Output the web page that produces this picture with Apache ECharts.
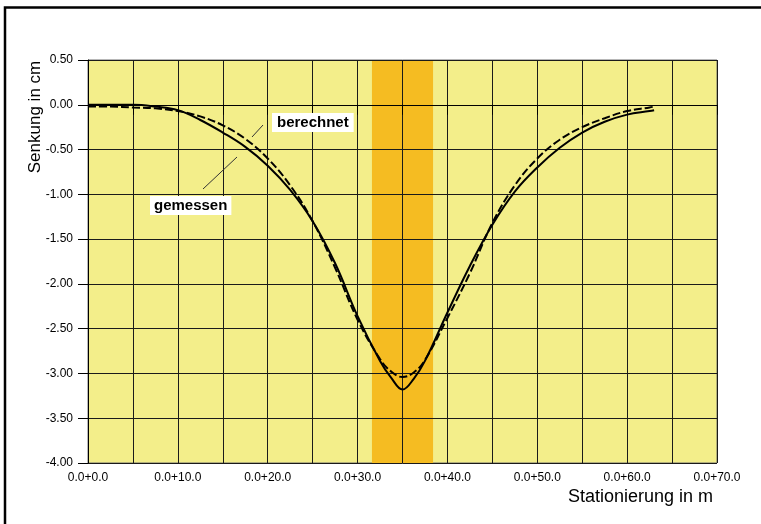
<!DOCTYPE html>
<html>
<head>
<meta charset="utf-8">
<script src="https://cdn.jsdelivr.net/npm/echarts@6/dist/echarts.min.js"></script>
<style>
  html, body { margin: 0; padding: 0; background: #fff; }
  #main { width: 761px; height: 524px; }
</style>
</head>
<body>
<div id="main"></div>
<script>
// Stationierung (m) und Senkung (cm)
var stations = [0, 2.5, 5, 7.5, 10, 12.5, 15, 17.5, 20, 22.5, 25, 27.5, 30, 32.5, 33.75, 35, 36.25, 37.5, 40, 42.5, 45, 47.5, 50, 52.5, 55, 57.5, 60, 62.5, 63];
var gemessen = [0, 0, 0, -0.02, -0.06, -0.17, -0.31, -0.47, -0.68, -0.95, -1.30, -1.77, -2.36, -2.86, -3.05, -3.18, -3.06, -2.86, -2.32, -1.80, -1.34, -0.97, -0.70, -0.48, -0.31, -0.19, -0.11, -0.07, -0.06];
var berechnet = [-0.02, -0.02, -0.03, -0.04, -0.07, -0.13, -0.23, -0.38, -0.60, -0.90, -1.30, -1.82, -2.40, -2.84, -2.98, -3.04, -2.99, -2.85, -2.38, -1.88, -1.32, -0.90, -0.60, -0.39, -0.25, -0.15, -0.07, -0.03, -0.02];
// Bereich des Tunnels
var bandFrom = 31.6;
var bandTo = 38.4;

function pairs(xs, ys) {
  return xs.map(function (x, i) { return [x, ys[i]]; });
}

var myChart = echarts.init(document.getElementById('main'));

var option = {
  animation: false,
  textStyle: { fontFamily: 'Arial, "Liberation Sans", sans-serif' },
  grid: {
    left: 88, right: 44, top: 60, bottom: 61,
    show: true,
    backgroundColor: '#F3EE8A',
    borderColor: '#6e6e6e',
    borderWidth: 1
  },
  xAxis: {
    type: 'value',
    z: 3,
    min: 0, max: 70, interval: 5,
    axisLine: { lineStyle: { color: '#000', width: 1 } },
    axisTick: { show: true, length: 10, lineStyle: { color: '#000' } },
    axisLabel: {
      margin: 9,
      color: '#000',
      fontSize: 12,
      showMinLabel: true, showMaxLabel: true,
      formatter: function (v) {
        return v % 10 === 0 ? '0.0+' + v.toFixed(1) : '';
      }
    },
    splitLine: { show: true, lineStyle: { color: '#1a1a1a', width: 1 } }
  },
  yAxis: {
    type: 'value',
    z: 3,
    min: -4, max: 0.5, interval: 0.5,
    axisLine: { show: true, lineStyle: { color: '#000', width: 1 } },
    axisTick: { show: true, length: 10, lineStyle: { color: '#000' } },
    axisLabel: {
      margin: 15,
      color: '#000',
      fontSize: 12,
      formatter: function (v) { return v.toFixed(2); }
    },
    splitLine: { show: true, lineStyle: { color: '#1a1a1a', width: 1 } }
  },
  series: [
    {
      name: 'band',
      type: 'line',
      z: 1,
      data: [],
      silent: true,
      markArea: {
        silent: true,
        itemStyle: { color: '#F5BC22' },
        data: [[{ xAxis: bandFrom }, { xAxis: bandTo }]]
      }
    },
    {
      name: 'gemessen',
      type: 'line',
      z: 5,
      smooth: 0.4,
      showSymbol: false,
      data: pairs(stations, gemessen),
      lineStyle: { color: '#000', width: 2 }
    },
    {
      name: 'berechnet',
      type: 'line',
      z: 5,
      smooth: 0.4,
      showSymbol: false,
      data: pairs(stations, berechnet),
      lineStyle: { color: '#000', width: 2, type: [8, 3] }
    }
  ],
  graphic: [
    {
      type: 'rect',
      shape: { x: 5, y: 7.5, width: 800, height: 600 },
      style: { fill: 'none', stroke: '#000', lineWidth: 2.5 },
      silent: true
    },
    {
      type: 'text',
      x: 35, y: 117,
      rotation: Math.PI / 2,
      style: {
        text: 'Senkung in cm',
        font: '17px Arial, "Liberation Sans", sans-serif',
        fill: '#000',
        align: 'center',
        verticalAlign: 'middle'
      }
    },
    {
      type: 'text',
      x: 713, y: 497,
      style: {
        text: 'Stationierung in m',
        font: '18px Arial, "Liberation Sans", sans-serif',
        fill: '#000',
        align: 'right',
        verticalAlign: 'middle'
      }
    },
    {
      type: 'line',
      z: 10,
      shape: { x1: 263, y1: 125, x2: 252, y2: 137 },
      style: { stroke: '#333', lineWidth: 1 }
    },
    {
      type: 'text',
      z: 10,
      x: 272, y: 113,
      style: {
        text: 'berechnet',
        font: 'bold 15px Arial, "Liberation Sans", sans-serif',
        fill: '#000',
        backgroundColor: '#fff',
        padding: [2, 5, 2, 5]
      }
    },
    {
      type: 'line',
      z: 10,
      shape: { x1: 237, y1: 157, x2: 203, y2: 189 },
      style: { stroke: '#333', lineWidth: 1 }
    },
    {
      type: 'text',
      z: 10,
      x: 150, y: 196,
      style: {
        text: 'gemessen',
        font: 'bold 15px Arial, "Liberation Sans", sans-serif',
        fill: '#000',
        backgroundColor: '#fff',
        padding: [2, 4, 2, 4]
      }
    }
  ]
};

myChart.setOption(option);
</script>
</body>
</html>
